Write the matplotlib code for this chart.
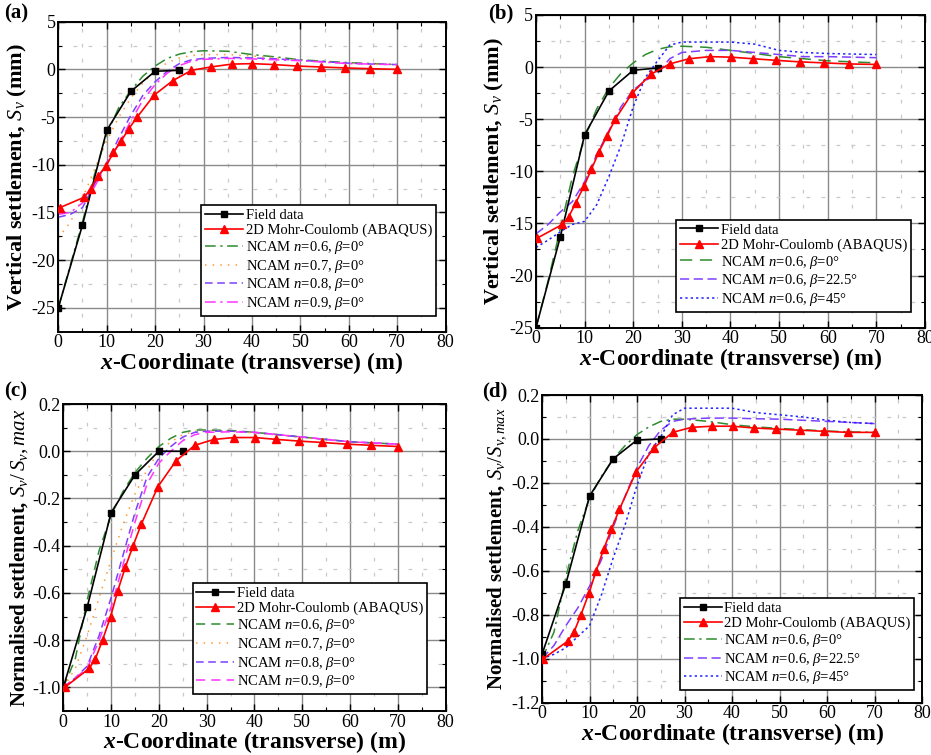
import matplotlib
matplotlib.use('Agg')
import matplotlib.pyplot as plt
from matplotlib.ticker import MultipleLocator, FormatStrFormatter

plt.rcParams['font.family'] = ['Liberation Serif', 'DejaVu Serif']
plt.rcParams['mathtext.fontset'] = 'custom'
plt.rcParams['mathtext.rm'] = 'Liberation Serif'
plt.rcParams['mathtext.it'] = 'Liberation Serif:italic'
plt.rcParams['mathtext.bf'] = 'Liberation Serif:bold'
plt.rcParams['mathtext.bfit'] = 'Liberation Serif:italic:bold'
plt.rcParams['axes.unicode_minus'] = False

# ---- data ----
x_field = [0, 5, 10, 15, 20, 25]
a_field = [-25.0, -16.3, -6.4, -2.3, -0.2, -0.1]
b_field = [-25.0, -16.3, -6.5, -2.3, -0.3, -0.1]
c_field = [-1.0, -0.66, -0.26, -0.10, 0.0, 0.0]
d_field = [-0.98, -0.66, -0.26, -0.09, -0.005, 0.0]

x_mc = [0.3, 5.4, 6.7, 8.2, 9.9, 11.4, 13.0, 14.6, 16.3, 19.8, 23.6, 27.5,
        31.5, 35.8, 40.1, 44.6, 49.3, 54.2, 59.3, 64.4, 70.0]
a_mc = [-14.5, -13.4, -12.5, -11.2, -10.1, -8.7, -7.5, -6.2, -5.0, -2.7, -1.2, -0.1,
        0.25, 0.55, 0.6, 0.5, 0.35, 0.25, 0.15, 0.07, 0.0]
b_mc = [-16.4, -15.1, -14.4, -13.0, -11.4, -9.8, -8.1, -6.6, -5.0, -2.5, -0.7, 0.3,
        0.8, 1.0, 0.95, 0.8, 0.65, 0.5, 0.4, 0.3, 0.25]
c_mc = [-1.0, -0.92, -0.88, -0.80, -0.70, -0.59, -0.49, -0.40, -0.31, -0.15, -0.04, 0.025,
        0.05, 0.058, 0.058, 0.05, 0.043, 0.037, 0.03, 0.025, 0.02]
d_mc = [-1.0, -0.92, -0.88, -0.80, -0.70, -0.60, -0.50, -0.41, -0.32, -0.15, -0.04, 0.03,
        0.053, 0.058, 0.058, 0.05, 0.045, 0.04, 0.035, 0.03, 0.03]

x_ncam = [0, 2.5, 5, 7.5, 10, 12.5, 15, 17.5, 20, 22.5, 25, 27.5, 30, 35, 40, 45, 50, 55, 60, 65, 70]
a_n06 = [-25.0, -20.5, -16.0, -11.0, -6.8, -4.0, -2.2, -0.7, 0.35, 1.15, 1.6, 1.85,
         1.95, 1.9, 1.55, 1.3, 1.0, 0.85, 0.7, 0.6, 0.5]
a_n07 = [-17.7, -16.0, -13.5, -10.5, -7.5, -5.0, -3.0, -1.4, -0.2, 0.7, 1.2, 1.45,
         1.55, 1.55, 1.4, 1.2, 0.95, 0.8, 0.65, 0.55, 0.5]
a_n08 = [-15.5, -15.2, -14.5, -12.0, -9.8, -7.2, -4.8, -2.7, -1.3, -0.2, 0.6, 1.0,
         1.15, 1.25, 1.2, 1.1, 0.95, 0.8, 0.65, 0.55, 0.5]
a_n09 = [-15.2, -15.0, -14.0, -12.3, -10.0, -7.8, -5.4, -3.2, -1.6, -0.4, 0.4, 0.85,
         1.05, 1.15, 1.1, 1.0, 0.9, 0.75, 0.6, 0.55, 0.5]

b_b0 = [-25.0, -20.5, -15.5, -10.5, -6.8, -4.0, -2.0, -0.6, 0.4, 1.2, 1.7, 1.95,
        2.0, 1.9, 1.6, 1.3, 1.0, 0.8, 0.6, 0.5, 0.4]
b_b22 = [-16.0, -15.1, -13.9, -12.9, -11.0, -8.4, -6.1, -3.8, -2.2, -1.3, -0.6, 0.8,
         1.4, 1.6, 1.6, 1.4, 1.2, 1.0, 1.0, 0.95, 0.9]
b_b45 = [-17.3, -16.6, -15.8, -15.1, -14.8, -13.2, -10.5, -7.5, -3.8, -1.0, 0.6, 2.1,
         2.4, 2.4, 2.4, 2.2, 1.6, 1.4, 1.3, 1.25, 1.2]

c_n06 = [-1.0, -0.88, -0.63, -0.42, -0.27, -0.17, -0.09, -0.03, 0.02, 0.055, 0.08, 0.09,
         0.09, 0.088, 0.08, 0.07, 0.06, 0.05, 0.04, 0.035, 0.03]
c_n07 = [-1.0, -0.92, -0.78, -0.62, -0.46, -0.31, -0.18, -0.08, 0.0, 0.04, 0.07, 0.085,
         0.088, 0.085, 0.078, 0.068, 0.058, 0.048, 0.04, 0.034, 0.03]
c_n08 = [-1.0, -0.96, -0.91, -0.78, -0.62, -0.44, -0.26, -0.11, -0.03, 0.02, 0.06, 0.08,
         0.085, 0.085, 0.08, 0.07, 0.06, 0.05, 0.04, 0.035, 0.03]
c_n09 = [-1.0, -0.96, -0.92, -0.80, -0.66, -0.48, -0.30, -0.14, -0.05, 0.0, 0.045, 0.07,
         0.08, 0.082, 0.08, 0.07, 0.06, 0.05, 0.04, 0.035, 0.03]

d_b0 = [-1.0, -0.88, -0.63, -0.42, -0.27, -0.17, -0.09, -0.03, 0.02, 0.055, 0.08, 0.09,
        0.09, 0.08, 0.065, 0.055, 0.048, 0.042, 0.036, 0.032, 0.03]
d_b22 = [-1.0, -0.94, -0.85, -0.77, -0.67, -0.55, -0.40, -0.26, -0.13, -0.03, 0.04, 0.08,
         0.09, 0.095, 0.095, 0.092, 0.09, 0.085, 0.08, 0.075, 0.07]
d_b45 = [-1.0, -0.98, -0.95, -0.90, -0.85, -0.71, -0.54, -0.39, -0.21, -0.065, 0.01, 0.11,
         0.14, 0.14, 0.14, 0.12, 0.11, 0.1, 0.085, 0.075, 0.07]

lbl_field = 'Field data'
lbl_mc = '2D Mohr-Coulomb (ABAQUS)'
lbl_n = ['NCAM $n$=0.6, $\\beta$=0°', 'NCAM $n$=0.7, $\\beta$=0°',
         'NCAM $n$=0.8, $\\beta$=0°', 'NCAM $n$=0.9, $\\beta$=0°']
lbl_b = ['NCAM $n$=0.6, $\\beta$=0°', 'NCAM $n$=0.6, $\\beta$=22.5°',
         'NCAM $n$=0.6, $\\beta$=45°']

GREEN = '#2e8b2e'
ORANGE = '#ff9933'
PURPLE = '#7f3fff'
MAGENTA = '#ff33ff'
BLUE = '#2020ff'


def style_axes(ax, ylim, ymajor, yminor, ylabel, fmt, ysize=16):
    ax.set_xlim(0, 80)
    ax.set_ylim(*ylim)
    ax.xaxis.set_major_locator(MultipleLocator(10))
    ax.xaxis.set_minor_locator(MultipleLocator(5))
    ax.yaxis.set_major_locator(MultipleLocator(ymajor))
    ax.yaxis.set_minor_locator(MultipleLocator(yminor))
    ax.yaxis.set_major_formatter(FormatStrFormatter(fmt))
    ax.grid(which='major', color='#8a8a8a', lw=1.0, ls='-')
    ax.grid(which='minor', color='#c8c8c8', lw=0.9, ls=(0, (3, 9)))
    ax.set_axisbelow(True)
    ax.tick_params(which='both', direction='in', top=True, right=True, labelsize=13, pad=2)
    ax.tick_params(which='major', length=5, width=1)
    ax.tick_params(which='minor', length=3, width=0.8)
    for s in ax.spines.values():
        s.set_linewidth(1.4)
    ax.set_xlabel('$\\boldsymbol{x}$-Coordinate (transverse) (m)', fontsize=17,
                  fontweight='bold', labelpad=-1)
    ax.set_ylabel(ylabel, fontsize=ysize, fontweight='bold', labelpad=2)


def base_lines(ax, field, mc):
    ax.plot(x_field, field, color='black', lw=1.2, marker='s', ms=5, label=lbl_field, zorder=5)
    ax.plot(x_mc, mc, color='red', lw=1.2, marker='^', ms=6, label=lbl_mc, zorder=5)


def add_legend(ax, x1, y0):
    leg = ax.legend(loc='lower right', bbox_to_anchor=(x1, y0), borderaxespad=0,
                    fontsize=10.5, frameon=True, fancybox=False, edgecolor='black',
                    framealpha=1, handlelength=2.6, handletextpad=0.2,
                    labelspacing=0.12, borderpad=0.25)
    leg.get_frame().set_linewidth(1.2)


fig = plt.figure(figsize=(9.31, 7.55), dpi=100)

# (a)
ax = fig.add_axes([0.0626, 0.5607, 0.4161, 0.4106])
base_lines(ax, a_field, a_mc)
ax.plot(x_ncam, a_n06, color=GREEN, lw=1.1, ls=(0, (7, 3, 1.5, 3)), label=lbl_n[0])
ax.plot(x_ncam, a_n07, color=ORANGE, lw=1.1, ls=(0, (1, 4)), label=lbl_n[1])
ax.plot(x_ncam, a_n08, color=PURPLE, lw=1.1, ls=(0, (5, 3)), label=lbl_n[2])
ax.plot(x_ncam, a_n09, color=MAGENTA, lw=1.1, ls=(0, (7, 3, 1.5, 3)), label=lbl_n[3])
style_axes(ax, (-27.5, 5), 5, 2.5, 'Vertical settlement, $S_v$ (mm)', '%g')
add_legend(ax, 0.974, 0.051)
fig.text(0.004, 0.982, '(a)', fontsize=15, fontweight='bold', va='center')

# (b)
ax = fig.add_axes([0.5757, 0.5660, 0.4178, 0.4142])
base_lines(ax, b_field, b_mc)
ax.plot(x_ncam, b_b0, color=GREEN, lw=1.1, ls=(0, (8, 5)), label=lbl_b[0])
ax.plot(x_ncam, b_b22, color=PURPLE, lw=1.1, ls=(0, (6, 3)), label=lbl_b[1])
ax.plot(x_ncam, b_b45, color=BLUE, lw=1.1, ls=(0, (1.5, 2)), label=lbl_b[2])
style_axes(ax, (-25, 5), 5, 2.5, 'Vertical settlement, $S_v$ (mm)', '%g')
add_legend(ax, 0.963, 0.051)
fig.text(0.524, 0.982, '(b)', fontsize=15, fontweight='bold', va='center')

# (c)
ax = fig.add_axes([0.0680, 0.0583, 0.4107, 0.4066])
base_lines(ax, c_field, c_mc)
ax.plot(x_ncam, c_n06, color=GREEN, lw=1.1, ls=(0, (6, 4)), label=lbl_n[0])
ax.plot(x_ncam, c_n07, color=ORANGE, lw=1.1, ls=(0, (1, 4)), label=lbl_n[1])
ax.plot(x_ncam, c_n08, color=PURPLE, lw=1.1, ls=(0, (5, 3)), label=lbl_n[2])
ax.plot(x_ncam, c_n09, color=MAGENTA, lw=1.1, ls=(0, (6, 4)), label=lbl_n[3])
style_axes(ax, (-1.1, 0.2), 0.2, 0.1, 'Normalised settlement, $S_v/\\,S_{v},max$', '%.1f',
           ysize=15)
add_legend(ax, 0.952, 0.055)
fig.text(0.004, 0.482, '(c)', fontsize=15, fontweight='bold', va='center')

# (d)
ax = fig.add_axes([0.5822, 0.0693, 0.4082, 0.4075])
base_lines(ax, d_field, d_mc)
ax.plot(x_ncam, d_b0, color=GREEN, lw=1.1, ls=(0, (7, 3, 1.5, 3)), label=lbl_b[0])
ax.plot(x_ncam, d_b22, color=PURPLE, lw=1.1, ls=(0, (6, 3)), label=lbl_b[1])
ax.plot(x_ncam, d_b45, color=BLUE, lw=1.1, ls=(0, (1.5, 2)), label=lbl_b[2])
style_axes(ax, (-1.2, 0.2), 0.2, 0.1, 'Normalised settlement, $S_v/S_{v,max}$', '%.1f',
           ysize=15)
add_legend(ax, 0.980, 0.041)
fig.text(0.518, 0.482, '(d)', fontsize=15, fontweight='bold', va='center')

fig.savefig('out.png', dpi=100)
